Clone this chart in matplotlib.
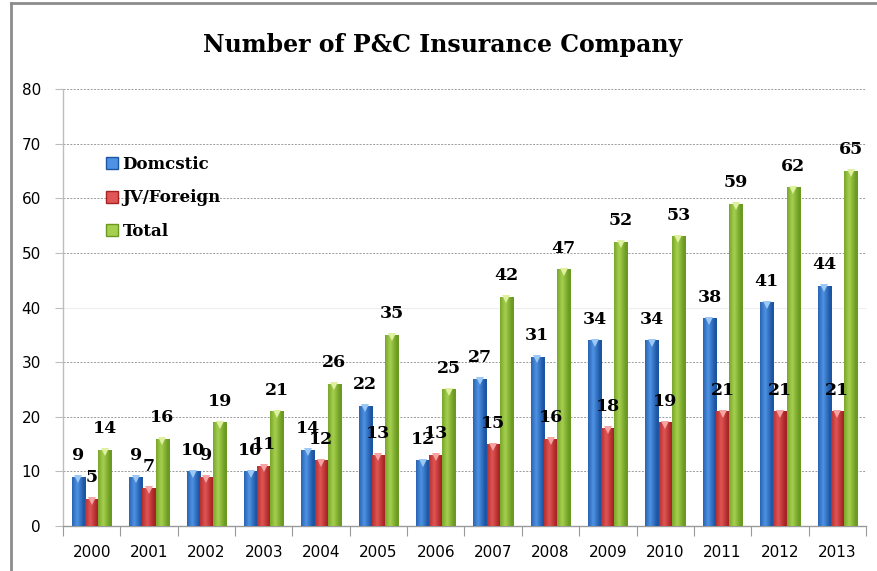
import numpy as np
import matplotlib
matplotlib.use("Agg")
import matplotlib.pyplot as plt
from matplotlib.patches import Rectangle
from matplotlib.lines import Line2D
from matplotlib.transforms import offset_copy

# data
years = ["2000", "2001", "2002", "2003", "2004", "2005", "2006",
         "2007", "2008", "2009", "2010", "2011", "2012", "2013"]
domestic = [9, 9, 10, 10, 14, 22, 12, 27, 31, 34, 34, 38, 41, 44]
jv_foreign = [5, 7, 9, 11, 12, 13, 13, 15, 16, 18, 19, 21, 21, 21]
total = [14, 16, 19, 21, 26, 35, 25, 42, 47, 52, 53, 59, 62, 65]
series_names = ["Domcstic", "JV/Foreign", "Total"]
y_ticks = [0, 10, 20, 30, 40, 50, 60, 70, 80]

# (edge/dark, light, triangle) per series
COLORS = [
    ("#1c55a3", "#4f92e3", "#9cc8f5"),
    ("#a82424", "#e05555", "#f5a3a3"),
    ("#6a9a22", "#a6d04e", "#dff0a0"),
]
SERIF = ["DejaVu Serif"]

W, H = 878, 571
fig = plt.figure(figsize=(W / 100, H / 100), dpi=100)
ax = fig.add_axes([63 / W, 1 - 526 / H, (866 - 63) / W, (526 - 89) / H])

x = np.arange(len(years))
bw = 0.23
offsets = [-bw, 0, bw]

# horizontal gradient used for the bar shading
grad_t = np.abs(np.linspace(-1, 1, 32) + 0.25)
grad_t = np.clip(grad_t, 0, 1)

for si, vals in enumerate([domestic, jv_foreign, total]):
    dark, light, tri = COLORS[si]
    c_dark = np.array(matplotlib.colors.to_rgb(dark))
    c_light = np.array(matplotlib.colors.to_rgb(light))
    img = (c_light[None, :] * (1 - grad_t[:, None]) + c_dark[None, :] * grad_t[:, None])[None, :, :]
    xs = x + offsets[si]
    for xi, v in zip(xs, vals):
        rect = Rectangle((xi - bw / 2, 0), bw, v, facecolor="none",
                         edgecolor="none", zorder=3)
        ax.add_patch(rect)
        im = ax.imshow(img, extent=(xi - bw / 2, xi + bw / 2, 0, v),
                       aspect="auto", zorder=3, interpolation="bilinear")
        im.set_clip_path(rect)
        ax.annotate(str(v), (xi, v), xytext=(0, 9), textcoords="offset points",
                    ha="center", va="bottom", fontsize=12.5, family=SERIF,
                    fontweight="bold", color="black", zorder=5)
    tri_tr = offset_copy(ax.transData, fig=fig, y=-2.5, units="dots")
    ax.plot(xs, vals, ls="none", marker="v", ms=5.5, color=tri,
            markeredgewidth=0, transform=tri_tr, zorder=4)

ax.set_xlim(-0.5, len(years) - 0.5)
ax.set_ylim(0, 80)

# gridlines
for yt in y_ticks[1:]:
    if yt == 40:
        ax.axhline(yt, color="#eeeeee", lw=0.8, zorder=1)
    else:
        ax.axhline(yt, color="#9a9a9a", lw=0.7, ls=(0, (2, 1.5)), zorder=1)

ax.set_yticks(y_ticks)
ax.set_yticklabels([str(t) for t in y_ticks])
ax.tick_params(axis="y", length=6, width=0.8, color="#bdbdbd", pad=10,
               labelsize=11)
ax.set_xticks(x)
ax.set_xticklabels(years)
ax.set_xticks(np.arange(len(years) + 1) - 0.5, minor=True)
ax.tick_params(axis="x", which="major", length=0, pad=14, labelsize=11)
ax.tick_params(axis="x", which="minor", length=7, width=0.8, color="#9a9a9a")

for s in ("top", "right"):
    ax.spines[s].set_visible(False)
ax.spines["left"].set_color("#bdbdbd")
ax.spines["bottom"].set_color("#9a9a9a")
ax.spines["left"].set_linewidth(1.0)
ax.spines["bottom"].set_linewidth(1.0)

handles = [Line2D([0], [0], ls="none", marker="s", ms=8,
                  markerfacecolor=COLORS[i][1], markeredgecolor=COLORS[i][0],
                  label=series_names[i]) for i in range(3)]
leg = fig.legend(handles=handles, loc="upper left",
                 bbox_to_anchor=(100 / W, 1 - 149 / H), frameon=False,
                 prop={"family": SERIF, "size": 12, "weight": "bold"},
                 handlelength=0.7, handletextpad=0.25, labelspacing=1.0,
                 borderaxespad=0)

fig.text(443 / W, 1 - 45 / H, "Number of P&C Insurance Company",
         ha="center", va="center", fontsize=17, family=SERIF,
         fontweight="bold")

# frame lines at top and left of the picture
fig.add_artist(Line2D([11 / W, 11 / W], [0, 1 - 3 / H], color="#8c8c8c",
                      lw=2, transform=fig.transFigure))
fig.add_artist(Line2D([11 / W, 1], [1 - 3 / H, 1 - 3 / H], color="#8c8c8c",
                      lw=2, transform=fig.transFigure))

fig.savefig("out.png", dpi=100, facecolor="white")
